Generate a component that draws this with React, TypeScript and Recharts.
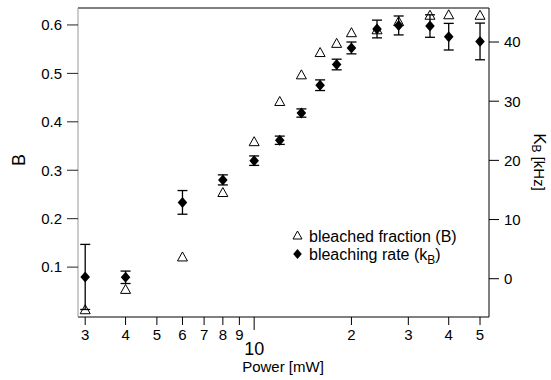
import React from 'react';
import { ScatterChart, Scatter, XAxis, YAxis, ErrorBar, ReferenceLine, Legend } from 'recharts';

const power = [3, 4, 6, 8, 10, 12, 14, 16, 18, 20, 24, 28, 35, 40, 50];
const bleachedFraction = [0.012, 0.054, 0.121, 0.254, 0.359, 0.442, 0.497, 0.543, 0.562, 0.584, 0.59, 0.607, 0.62, 0.621, 0.62];
const bleachingRate = [0.3, 0.24, 12.9, 16.7, 19.95, 23.4, 28.0, 32.7, 36.2, 39.0, 42.2, 42.8, 42.7, 40.9, 40.1];
const bleachingRateErr = [5.5, 1.05, 2.0, 0.85, 0.8, 0.7, 0.7, 0.9, 0.9, 1.0, 1.5, 1.6, 1.9, 2.25, 3.1];

const xTicks = [3, 4, 5, 6, 7, 8, 9, 10, 20, 30, 40, 50];
const xTickLabels = ['3', '4', '5', '6', '7', '8', '9', '10', '2', '3', '4', '5'];
const bTicks = [0.1, 0.2, 0.3, 0.4, 0.5, 0.6];
const kTicks = [0, 10, 20, 30, 40];

const bData = power.map((p, i) => ({ p, B: bleachedFraction[i] }));
const kData = power.map((p, i) => ({ p, k: bleachingRate[i], kErr: bleachingRateErr[i] }));

const FONT = '"Liberation Sans", Arial, Helvetica, sans-serif';

const Triangle = (props: any) => {
  const { cx, cy } = props;
  if (cx == null || cy == null) return null;
  return (
    <polygon
      points={`${cx},${cy - 5} ${cx + 5},${cy + 4} ${cx - 5},${cy + 4}`}
      fill="none"
      stroke="#000"
      strokeWidth={1}
    />
  );
};

const Diamond = (props: any) => {
  const { cx, cy } = props;
  if (cx == null || cy == null) return null;
  return (
    <polygon
      points={`${cx},${cy - 5.5} ${cx + 4.8},${cy} ${cx},${cy + 5.5} ${cx - 4.8},${cy}`}
      fill="#000"
      stroke="none"
    />
  );
};

const XTick = (props: any) => {
  const { x, y, payload } = props;
  const v = payload.value;
  const idx = xTicks.indexOf(v);
  const label = idx >= 0 ? xTickLabels[idx] : String(v);
  const major = v === 10;
  return (
    <g>
      <line x1={x} x2={x} y1={y} y2={y + (major ? 13 : 8)} stroke="#000" strokeWidth={1} />
      <text
        x={x}
        y={major ? y + 38 : y + 23}
        textAnchor="middle"
        fontSize={major ? 18 : 15}
        fontFamily={FONT}
        fill="#000"
      >
        {label}
      </text>
    </g>
  );
};

const LegendContent = () => (
  <svg width={200} height={50} style={{ display: 'block' }}>
    <polygon points="12.5,12 17,20 8,20" fill="none" stroke="#000" strokeWidth={1} />
    <text x={24} y={22.5} fontSize={16} fontFamily={FONT} fill="#000">bleached fraction (B)</text>
    <polygon points="12.5,30 16.8,35 12.5,40 8.2,35" fill="#000" />
    <text x={24} y={40.5} fontSize={16} fontFamily={FONT} fill="#000">
      bleaching rate (k<tspan fontSize={12} dy={4}>B</tspan><tspan dy={-4}>)</tspan>
    </text>
  </svg>
);

const LeftLabel = () => (
  <text
    x={19}
    y={160}
    transform="rotate(-90, 19, 160)"
    textAnchor="middle"
    dominantBaseline="central"
    fontSize={18}
    fontFamily={FONT}
    fill="#000"
  >
    B
  </text>
);

const RightLabel = () => (
  <text
    x={540}
    y={162}
    transform="rotate(90, 540, 162)"
    textAnchor="middle"
    dominantBaseline="central"
    fontSize={15}
    fontFamily={FONT}
    fill="#000"
  >
    <tspan fontSize={17}>K</tspan>
    <tspan fontSize={12} dy={4}>B</tspan>
    <tspan dy={-4}> [kHz]</tspan>
  </text>
);

const BottomLabel = () => (
  <text x={283} y={372} textAnchor="middle" fontSize={15} fontFamily={FONT} fill="#000">
    Power [mW]
  </text>
);

export default function App() {
  return (
    <div style={{ position: 'absolute', left: 0, top: 0, width: 551, height: 380, background: '#fff' }}>
      <ScatterChart width={551} height={380} margin={{ top: 8, right: 0, bottom: 0, left: 0 }} style={{ fontFamily: FONT }}>
        <XAxis
          dataKey="p"
          type="number"
          scale="log"
          domain={[2.85, 53.3]}
          allowDataOverflow
          ticks={xTicks}
          interval={0}
          height={63}
          tickSize={0}
          tickMargin={0}
          tickLine={false}
          tick={<XTick />}
          axisLine={{ stroke: '#000', strokeWidth: 1 }}
          label={<BottomLabel />}
        />
        <YAxis
          yAxisId="B"
          dataKey="B"
          orientation="left"
          type="number"
          domain={[-0.003, 0.635]}
          allowDataOverflow
          ticks={bTicks}
          interval={0}
          width={78}
          tickSize={11}
          tickMargin={5}
          tickFormatter={(v: number) => v.toFixed(1)}
          tick={{ fill: '#000', fontSize: 15, fontFamily: FONT }}
          tickLine={{ stroke: '#222', strokeWidth: 1 }}
          axisLine={{ stroke: '#999', strokeWidth: 1 }}
          label={<LeftLabel />}
        />
        <YAxis
          yAxisId="k"
          dataKey="k"
          orientation="right"
          type="number"
          domain={[-6.47, 45.75]}
          allowDataOverflow
          ticks={kTicks}
          interval={0}
          width={62}
          tickSize={10}
          tickMargin={5}
          tick={{ fill: '#000', fontSize: 15, fontFamily: FONT }}
          tickLine={{ stroke: '#000', strokeWidth: 1 }}
          axisLine={{ stroke: '#000', strokeWidth: 1 }}
          label={<RightLabel />}
        />
        <ReferenceLine yAxisId="B" y={0.635} stroke="#000" strokeWidth={1} ifOverflow="extendDomain" />
        <Scatter
          name="bleached fraction (B)"
          data={bData}
          dataKey="B"
          yAxisId="B"
          shape={<Triangle />}
          isAnimationActive={false}
        />
        <Scatter
          name="bleaching rate (kB)"
          data={kData}
          dataKey="k"
          yAxisId="k"
          shape={<Diamond />}
          isAnimationActive={false}
        >
          <ErrorBar dataKey="kErr" direction="y" width={5} stroke="#000" strokeWidth={1.3} isAnimationActive={false} />
        </Scatter>
        <Legend
          layout="horizontal"
          verticalAlign="middle"
          align="center"
          content={<LegendContent />}
          wrapperStyle={{ left: 285, top: 219, width: 200, height: 50 }}
        />
      </ScatterChart>
    </div>
  );
}
